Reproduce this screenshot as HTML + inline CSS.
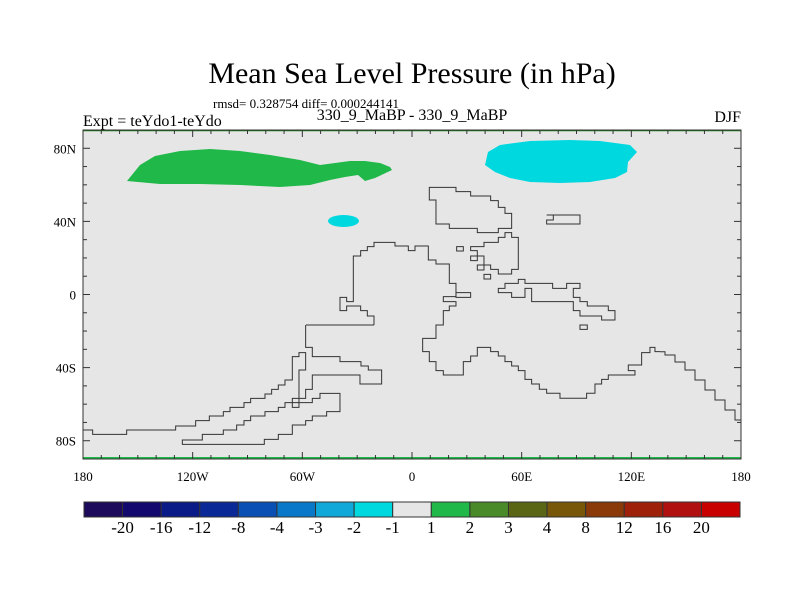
<!DOCTYPE html>
<html><head><meta charset="utf-8"><style>
body{margin:0;background:#fff}
svg{display:block;font-family:"Liberation Serif",serif}
</style></head><body>
<svg id="chart" width="800" height="600" viewBox="0 0 800 600">
<text x="412" y="83" font-size="30" text-anchor="middle">Mean Sea Level Pressure (in hPa)</text>
<text x="213" y="108" font-size="13">rmsd= 0.328754 diff= 0.000244141</text>
<text x="83" y="126" font-size="16">Expt = teYdo1-teYdo</text>
<text x="412" y="120" font-size="16" text-anchor="middle">330_9_MaBP - 330_9_MaBP</text>
<text x="741" y="122" font-size="16" text-anchor="end">DJF</text>
<rect x="83" y="130" width="658" height="329" fill="#e6e6e6"/>
<g>
<polygon fill="#20b848" points="127,181 140,165 155,156 180,151 210,149 240,151 270,155 300,160 320,165 335,163 350,161 365,161 380,163 390,167 392,170 375,178 365,181 358,175 345,177 330,180 310,185 280,187 240,185 200,184 160,184"/>
<polygon fill="#00d8e0" points="485,165 488,152 500,145 530,141 570,140 600,141 630,145 637,152 628,162 627,172 615,178 590,182 560,183 530,182 510,178 495,172"/>
<ellipse cx="343.5" cy="221" rx="15.5" ry="6" fill="#00d8e0"/>
</g>
<g fill="none" stroke="#333" stroke-width="1">
<g transform="translate(280,180) scale(0.3333)" stroke-width="3">
<path d="M448,22 H528 V35 H572 V48 H632 V62 H655 V82 H675 V100 H695 V145 H655 V158 H592 V145 H508 V132 H468 V60 H448 Z"/>
<path d="M800,105 H900 V132 H800 V120 H820 V105 Z"/>
<path d="M282,435 H78 M282,435 V408 H262 V392 H242 V378 H200 V392 H180 V352 H200 V365 H220 V228 H242 V212 H262 V200 H282 V187 H345 V198 H385 V212 H405 V198 H445 V240 H468 V252 H508 V310 H528 V350 H490 V365 H528 V378 H508 V392 H490 V435 H468 V475 H428 V515 H448 V545 H468 V572 H490 V585 H550 V545 H572 V528 H592 V502 H632 V515 H655 V528 H675 V545 H695 V558 H715 V572 H735 V598 H755 V612 H778 V628 H800 V640 H840 V655 H920 V640 H945 V612 H965 V598 H985 V585 H1065 V572 H1045 V555 H1085 V518 H1110 V502 H1125 V515 H1140"/>
<path d="M528,338 H572 V352 H528 Z"/>
<path d="M572,200 H612 V187 H655 V172 H675 V158 H695 V172 H715 V268 H695 V282 H655 V268 H632 V255 H612 V228 H592 V212 H572 Z"/>
<path d="M530,200 H550 V213 H530 Z M572,228 H592 V242 H572 Z M592,255 H612 V270 H592 Z M612,283 H632 V297 H612 Z M900,435 H922 V448 H900 Z"/>
<path d="M655,325 H675 V310 H715 V298 H735 V310 H818 V325 H860 V310 H900 V325 H880 V352 H900 V365 H922 V378 H985 V392 H1005 V420 H965 V408 H900 V392 H880 V365 H755 V325 H735 V352 H695 V338 H655 Z"/>
</g>
<path d="M660,351.7 H665 V355 H675 V362 H685 V370 H695 V380 H705 V390 H715 V400 H725 V410 H735 V420 H741"/>
<g transform="translate(80,300) scale(0.3333)" stroke-width="3">
<path d="M677,75 V142 H697 V170 H780 V185 H843 V198 H865 V210 H905 V252 H840 V225 H697 V268 H677 V295 H637 V322 H657 V210 H677 V158 H657 V170 H637 V240 H615 V255 H595 V268 H575 V282 H555 V295 H512 V308 H492 V322 H450 V335 H430 V348 H388 V362 H347 V378 H287 V390 H140 V403 H38 V390 H10"/>
<path d="M307,420 H367 V403 H430 V390 H470 V375 H492 V362 H512 V348 H555 V335 H595 V322 H615 V308 H697 V295 H720 V280 H780 V335 H740 V348 H697 V362 H677 V375 H637 V403 H595 V418 H553 V433 H307 Z"/>
</g>
</g>
<line x1="83" y1="130.5" x2="741" y2="130.5" stroke="#1a7a1a" stroke-width="1.5"/>
<line x1="83" y1="458" x2="741" y2="458" stroke="#20b848" stroke-width="2"/>
<rect x="83" y="130" width="658" height="329" fill="none" stroke="#333" stroke-width="1"/>
<g id="axes"></g>
<g id="colorbar"></g>
</svg>
<script>
const lonTicks=[-180,-120,-60,0,60,120,180];
const lonLabels=["180","120W","60W","0","60E","120E","180"];
const latTicks=[80,40,0,-40,-80];
const latLabels=["80N","40N","0","40S","80S"];
const cbLevels=["-20","-16","-12","-8","-4","-3","-2","-1","1","2","3","4","8","12","16","20"];
const cbColors=["#1e0a5a","#12086e","#0a1a86","#0a2896","#0a50b4","#0a78c8","#10a8d8","#00d8e0","#e6e6e6","#20b848","#4a8a28","#5a6614","#785808","#8a3a08","#9e2008","#b01010","#c80000"];
const NS="http://www.w3.org/2000/svg";
const X0=83,X1=741,Y0=130,Y1=459;
const xs=lon=>X0+(lon+180)/360*(X1-X0);
const ys=lat=>Y1-(lat+90)/180*(Y1-Y0);
function mk(tag,attrs,parent){const e=document.createElementNS(NS,tag);for(const k in attrs)e.setAttribute(k,attrs[k]);parent.appendChild(e);return e;}
const ax=document.getElementById('axes');
for(let l=-180;l<=180;l+=10){const major=l%60===0;const len=major?7:4;
 let t=mk('line',{x1:xs(l),x2:xs(l),y1:Y1,y2:Y1-len,stroke:'#333'},ax);
 
 
 t=mk('line',{x1:xs(l),x2:xs(l),y1:Y0,y2:Y0+len,stroke:'#333'},ax);
 
 }
for(let l=-90;l<=90;l+=10){const major=l%40===0;const len=major?7:4;
 let t=mk('line',{x1:X0,x2:X0+len,y1:ys(l),y2:ys(l),stroke:'#333'},ax);
 
 
 t=mk('line',{x1:X1,x2:X1-len,y1:ys(l),y2:ys(l),stroke:'#333'},ax);
 
 }
lonTicks.forEach((l,i)=>{const t=mk('text',{x:xs(l),y:481,'font-size':13,'text-anchor':'middle'},ax);t.textContent=lonLabels[i];
 
 });
latTicks.forEach((l,i)=>{const t=mk('text',{x:76,y:ys(l)+5,'font-size':13,'text-anchor':'end'},ax);t.textContent=latLabels[i];
 
 });
const cb=document.getElementById('colorbar');
const CB0=84,CB1=740,CBY=502,CBH=15;const bw=(CB1-CB0)/cbColors.length;
cbColors.forEach((c,i)=>{const r=mk('rect',{x:CB0+i*bw,y:CBY,width:bw,height:CBH,fill:c,stroke:'#333','stroke-width':1},cb);
 
 });
cbLevels.forEach((v,i)=>{const t=mk('text',{x:CB0+(i+1)*bw,y:533,'font-size':17,'text-anchor':'middle'},cb);t.textContent=v;
 
 });
</script>
</body></html>
